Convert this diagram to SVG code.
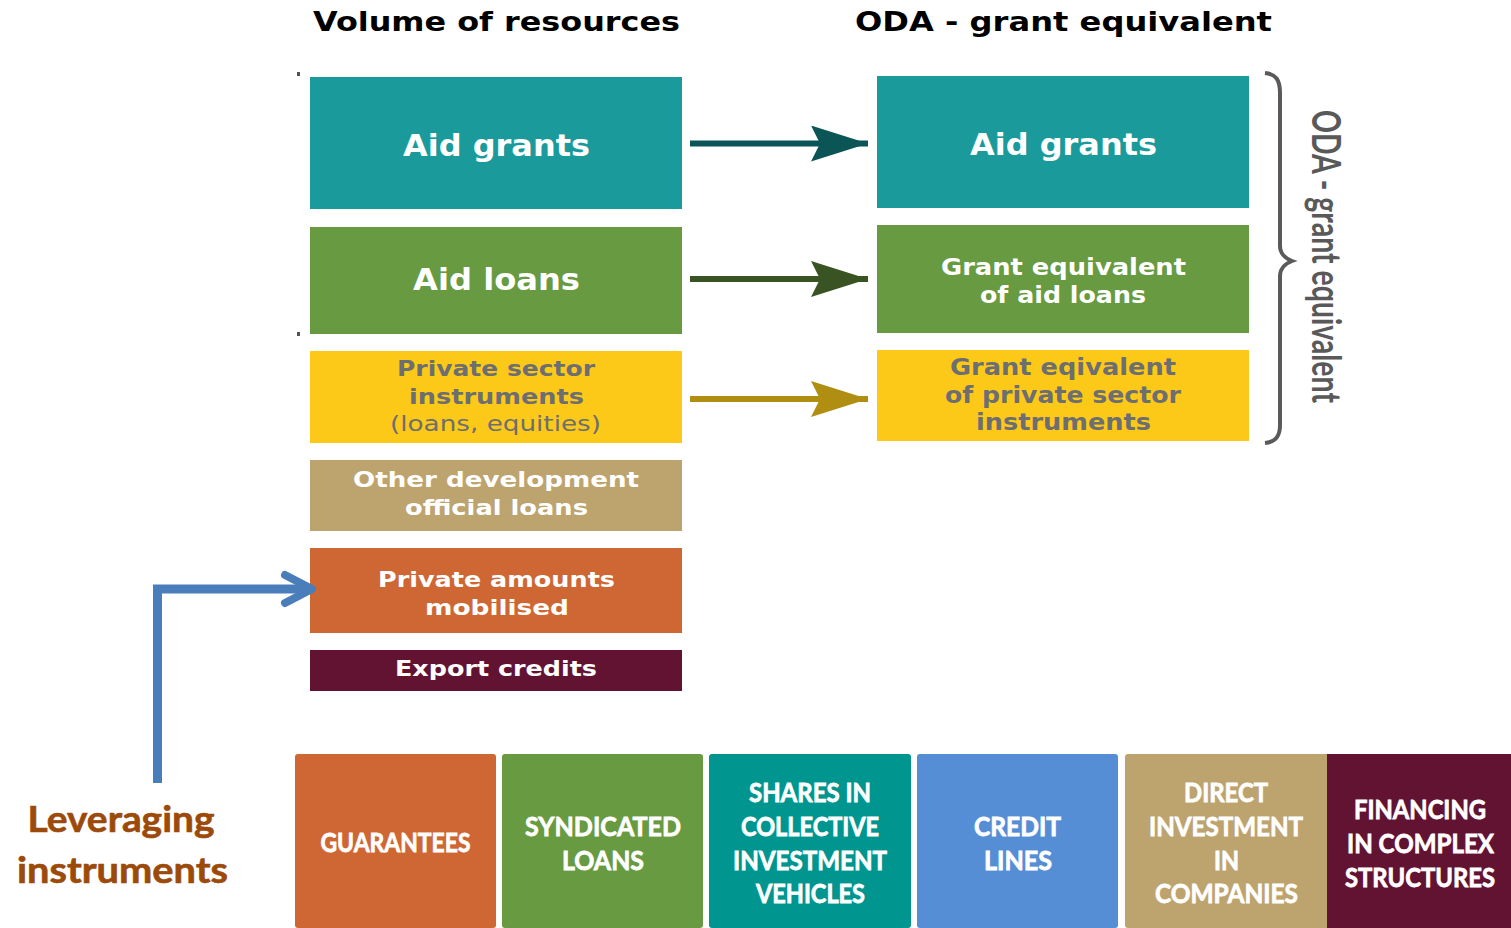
<svg xmlns="http://www.w3.org/2000/svg" width="1511" height="928" viewBox="0 0 1511 928">
<style>
.t{font-family:"DejaVu Sans",sans-serif;font-weight:bold;text-anchor:middle;fill:#fff}
.g{fill:#6d6e71}
.title{font-family:"DejaVu Sans",sans-serif;font-weight:bold;text-anchor:middle;fill:#000;font-size:26px}
.b{font-family:Lato,"Open Sans",sans-serif;font-weight:bold;text-anchor:middle;fill:#fff;stroke:#fff;stroke-width:0.8px;font-size:27px}
.lev{font-family:Lato,"Open Sans",sans-serif;font-weight:bold;text-anchor:middle;fill:#9c4a0a;stroke:#9c4a0a;stroke-width:0.6px;font-size:36px}
.side{font-family:Lato,"Open Sans",sans-serif;font-weight:bold;text-anchor:middle;fill:#595959;font-size:41px}
.teal{fill:#1b9a9c}.green{fill:#679a41}.yellow{fill:#fdc918}.tan{fill:#bda46f}.orange{fill:#ce6733}.maroon{fill:#621332}
.bteal{fill:#00968f}.blue{fill:#558ed5}
</style>
<defs>
<marker id="hTeal" markerUnits="userSpaceOnUse" viewBox="0 0 57 36" refX="57" refY="18" markerWidth="57" markerHeight="36" orient="auto"><path d="M0,0 L57,18 L0,36 L9,18 z" fill="#0b5556"/></marker>
<marker id="hGreen" markerUnits="userSpaceOnUse" viewBox="0 0 57 36" refX="57" refY="18" markerWidth="57" markerHeight="36" orient="auto"><path d="M0,0 L57,18 L0,36 L9,18 z" fill="#3a5322"/></marker>
<marker id="hGold" markerUnits="userSpaceOnUse" viewBox="0 0 57 36" refX="57" refY="18" markerWidth="57" markerHeight="36" orient="auto"><path d="M0,0 L57,18 L0,36 L9,18 z" fill="#b08e12"/></marker>
<marker id="hBlue" markerUnits="userSpaceOnUse" viewBox="-34 -20 40 40" refX="0" refY="0" markerWidth="40" markerHeight="40" orient="auto" overflow="visible"><path d="M-27,-14 L0,0 L-27,14" fill="none" stroke="#4a7ebb" stroke-width="8" stroke-linecap="round" stroke-linejoin="round"/></marker>
</defs>
<rect width="1511" height="928" fill="#fff"/>

<text class="title" x="496.5" y="31" textLength="367" lengthAdjust="spacingAndGlyphs">Volume of resources</text>
<text class="title" x="1063.5" y="31" textLength="417" lengthAdjust="spacingAndGlyphs">ODA - grant equivalent</text>

<rect x="297" y="72" width="3" height="4" fill="#555"/>
<rect x="297" y="332" width="3" height="4" fill="#555"/>

<g id="vol-aid-grants"><rect class="teal" x="310" y="77" width="372" height="132"/><text class="t" x="496.5" y="156" font-size="30" textLength="187" lengthAdjust="spacingAndGlyphs">Aid grants</text></g>
<g id="vol-aid-loans"><rect class="green" x="310" y="227" width="372" height="107"/><text class="t" x="496.5" y="290" font-size="30" textLength="167" lengthAdjust="spacingAndGlyphs">Aid loans</text></g>
<g id="vol-private-sector"><rect class="yellow" x="310" y="351" width="372" height="92"/>
<text class="t g" x="496" y="376" font-size="22" textLength="198" lengthAdjust="spacingAndGlyphs">Private sector</text>
<text class="t g" x="496.5" y="404" font-size="22" textLength="175" lengthAdjust="spacingAndGlyphs">instruments</text>
<text class="t g" x="495.5" y="431" font-size="22" style="font-weight:normal" textLength="211" lengthAdjust="spacingAndGlyphs">(loans, equities)</text></g>
<g id="vol-other-dev"><rect class="tan" x="310" y="460" width="372" height="71"/>
<text class="t" x="496" y="487" font-size="22" textLength="286" lengthAdjust="spacingAndGlyphs">Other development</text>
<text class="t" x="496.5" y="515" font-size="22" textLength="183" lengthAdjust="spacingAndGlyphs">official loans</text></g>
<g id="vol-private-mobilised"><rect class="orange" x="310" y="548" width="372" height="85"/>
<text class="t" x="496.5" y="587" font-size="22" textLength="237" lengthAdjust="spacingAndGlyphs">Private amounts</text>
<text class="t" x="497" y="615" font-size="22" textLength="144" lengthAdjust="spacingAndGlyphs">mobilised</text></g>
<g id="vol-export"><rect class="maroon" x="310" y="650" width="372" height="41"/>
<text class="t" x="496" y="676" font-size="22" textLength="202" lengthAdjust="spacingAndGlyphs">Export credits</text></g>

<g id="oda-aid-grants"><rect class="teal" x="877" y="76" width="372" height="132"/><text class="t" x="1063.5" y="155" font-size="30" textLength="187" lengthAdjust="spacingAndGlyphs">Aid grants</text></g>
<g id="oda-loans"><rect class="green" x="877" y="225" width="372" height="108"/>
<text class="t" x="1063.5" y="275" font-size="23" textLength="245" lengthAdjust="spacingAndGlyphs">Grant equivalent</text>
<text class="t" x="1063" y="303" font-size="23" textLength="166" lengthAdjust="spacingAndGlyphs">of aid loans</text></g>
<g id="oda-private"><rect class="yellow" x="877" y="350" width="372" height="91"/>
<text class="t g" x="1063" y="375" font-size="23" textLength="226" lengthAdjust="spacingAndGlyphs">Grant eqivalent</text>
<text class="t g" x="1063" y="403" font-size="23" textLength="236" lengthAdjust="spacingAndGlyphs">of private sector</text>
<text class="t g" x="1063.5" y="430" font-size="23" textLength="175" lengthAdjust="spacingAndGlyphs">instruments</text></g>

<g id="brace">
<path d="M1265,73 C1276,74 1280,80 1280,93 L1280,246 C1280,252 1284,258 1292,261 C1284,264 1280,270 1280,276 L1280,425 C1280,436 1276,442 1265,443" fill="none" stroke="#5a5a5a" stroke-width="4"/>
<text class="side" transform="translate(1312,256.5) rotate(90)" x="0" y="0" textLength="293" lengthAdjust="spacingAndGlyphs">ODA - grant equivalent</text>
</g>

<g id="connectors">
<path d="M690,143.5 L868,143.5" stroke="#0b5556" stroke-width="6" marker-end="url(#hTeal)"/>
<path d="M690,279 L868,279" stroke="#3a5322" stroke-width="6" marker-end="url(#hGreen)"/>
<path d="M690,399 L868,399" stroke="#b08e12" stroke-width="6" marker-end="url(#hGold)"/>
<path d="M157.5,783 L157.5,589 L312,589" fill="none" stroke="#4a7ebb" stroke-width="9" marker-end="url(#hBlue)"/>
</g>

<g id="leveraging">
<text class="lev" x="121" y="832" textLength="187" lengthAdjust="spacingAndGlyphs">Leveraging</text>
<text class="lev" x="122.5" y="883" textLength="211" lengthAdjust="spacingAndGlyphs">instruments</text>
</g>

<g id="guarantees"><rect class="orange" x="295" y="754" width="201" height="174" rx="3"/>
<text class="b" x="395.5" y="852" textLength="150" lengthAdjust="spacingAndGlyphs">GUARANTEES</text></g>
<g id="syndicated"><rect class="green" x="502" y="754" width="201" height="174" rx="3"/>
<text class="b" x="603" y="836" textLength="156" lengthAdjust="spacingAndGlyphs">SYNDICATED</text>
<text class="b" x="603" y="870" textLength="82" lengthAdjust="spacingAndGlyphs">LOANS</text></g>
<g id="shares"><rect class="bteal" x="709" y="754" width="202" height="174" rx="3"/>
<text class="b" x="810" y="802" textLength="122" lengthAdjust="spacingAndGlyphs">SHARES IN</text>
<text class="b" x="810" y="836" textLength="138" lengthAdjust="spacingAndGlyphs">COLLECTIVE</text>
<text class="b" x="810" y="870" textLength="154" lengthAdjust="spacingAndGlyphs">INVESTMENT</text>
<text class="b" x="810.5" y="903" textLength="109" lengthAdjust="spacingAndGlyphs">VEHICLES</text></g>
<g id="credit"><rect class="blue" x="917" y="754" width="201" height="174" rx="3"/>
<text class="b" x="1017.5" y="836" textLength="87" lengthAdjust="spacingAndGlyphs">CREDIT</text>
<text class="b" x="1018" y="870" textLength="68" lengthAdjust="spacingAndGlyphs">LINES</text></g>
<g id="direct"><rect class="tan" x="1125" y="754" width="205" height="174" rx="3"/>
<text class="b" x="1226" y="802" textLength="84" lengthAdjust="spacingAndGlyphs">DIRECT</text>
<text class="b" x="1226" y="836" textLength="154" lengthAdjust="spacingAndGlyphs">INVESTMENT</text>
<text class="b" x="1226.5" y="870" textLength="25" lengthAdjust="spacingAndGlyphs">IN</text>
<text class="b" x="1226.5" y="903" textLength="143" lengthAdjust="spacingAndGlyphs">COMPANIES</text></g>
<g id="financing"><rect class="maroon" x="1327" y="754" width="184" height="174"/>
<text class="b" x="1420" y="819" font-size="26" textLength="132" lengthAdjust="spacingAndGlyphs">FINANCING</text>
<text class="b" x="1420.5" y="853" font-size="26" textLength="147" lengthAdjust="spacingAndGlyphs">IN COMPLEX</text>
<text class="b" x="1420" y="887" font-size="26" textLength="150" lengthAdjust="spacingAndGlyphs">STRUCTURES</text></g>
</svg>
